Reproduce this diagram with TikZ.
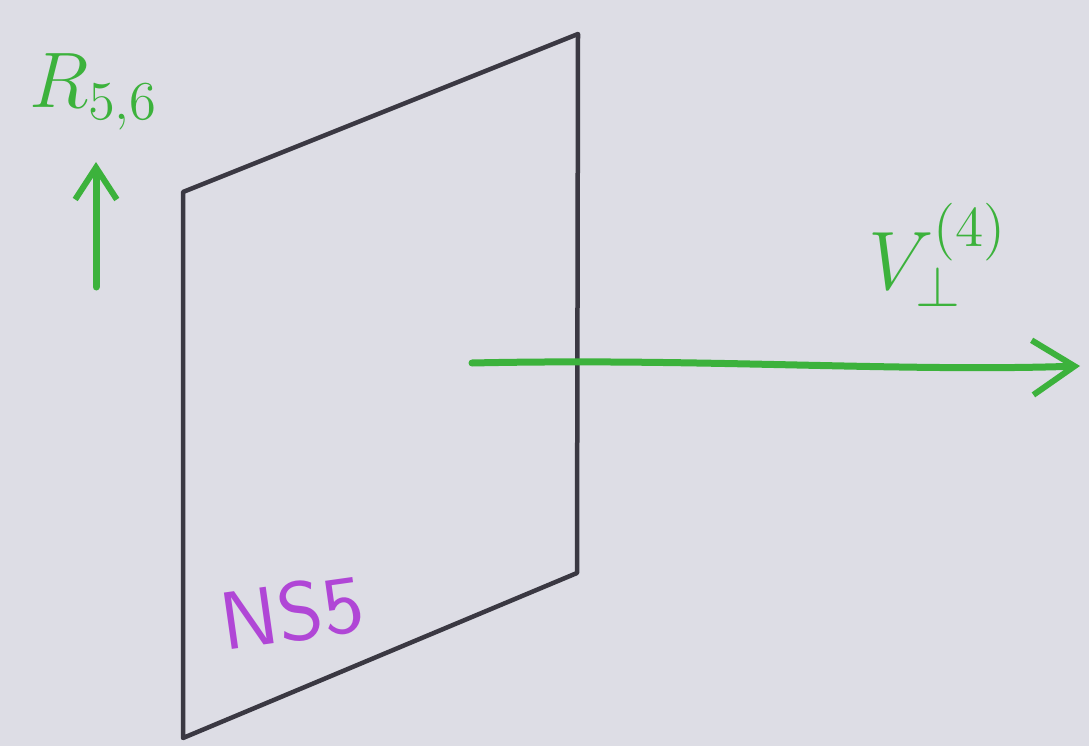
\documentclass[tikz,border=0pt]{standalone}
\usetikzlibrary{arrows.meta}
\definecolor{paper}{RGB}{221,221,229}
\definecolor{pencil}{RGB}{58,56,66}
\definecolor{marker}{RGB}{60,178,60}
\definecolor{violet}{RGB}{176,70,214}
\tikzset{
  brane/.style={draw=pencil,line width=4.5pt,line join=round,line cap=round},
  greenarrow/.style={draw=marker,line width=7pt,line cap=round,
    -{Straight Barb[length=#1,width=1.3*#1,line width=6pt]}},
  greenlabel/.style={text=marker,inner sep=0pt},
}
\begin{document}
\begin{tikzpicture}[x=1pt,y=-1pt]
\fill[paper] (0,0) rectangle (1089,746);
\useasboundingbox (0,0) rectangle (1089,746);
% NS5 brane
\coordinate (tl) at (183,192);
\coordinate (tr) at (578,34);
\coordinate (br) at (577,573);
\coordinate (bl) at (183,738);
\draw[brane] (tl) -- (tr) -- (br) -- (bl) -- cycle;
\node[text=violet,font=\sffamily,scale=8.2,rotate=8,inner sep=0pt] (ns) at (292,612) {NS5};
% R_{5,6}
\node[greenlabel,font=\huge,scale=3.8] (R) at (94,92) {$R_{5,6}$};
\coordinate (rs) at (96,287);
\coordinate (re) at (96,162);
\draw[greenarrow=32pt] (rs) -- (re);
% V_perp^(4)
\node[greenlabel,font=\huge,scale=4.0] (V) at (938,255) {$V_{\perp}^{(4)}$};
\coordinate (vs) at (472,363);
\coordinate (ve) at (1080,366);
\draw[greenarrow=42pt] (vs) .. controls (700,358) and (900,372) .. (ve);
\end{tikzpicture}
\end{document}
